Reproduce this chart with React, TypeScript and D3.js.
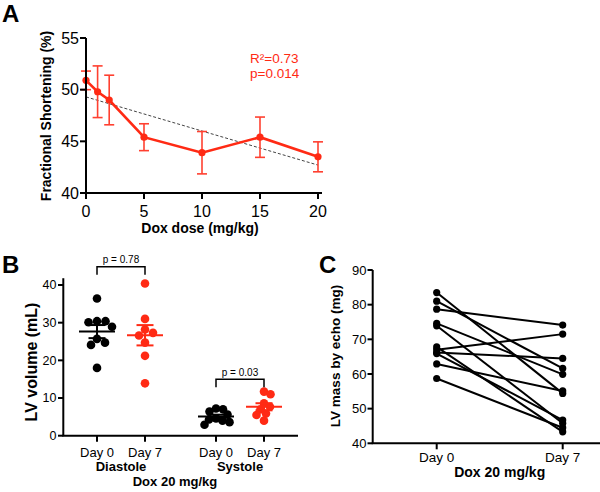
import React from 'react';
import * as d3 from 'd3';

// ---------- Panel A data ----------
const doses = [0, 1, 2, 5, 10, 15, 20];
const fsMean = [50.9, 49.8, 49.0, 45.4, 43.9, 45.4, 43.5];
const fsSem = [0.9, 2.5, 2.4, 1.3, 2.05, 1.95, 1.45];
const fitDoses = [0, 20];
const fitValues = [49.3, 42.7];
const aTicksY = [40, 45, 50, 55];
const aTicksX = [0, 5, 10, 15, 20];
const statText = ['R²=0.73', 'p=0.014'];

// ---------- Panel B data ----------
const phases = ['Diastole', 'Systole'];
const days = ['Day 0', 'Day 7'];
const diastoleDay0 = [36.4, 30.4, 28.9, 30.1, 30.4, 24.7, 24.1, 25.7, 18.0];
const diastoleDay7 = [40.4, 31.0, 27.3, 28.2, 26.6, 24.7, 21.2, 13.9];
const systoleDay0 = [7.2, 7.0, 6.4, 5.6, 4.6, 4.3, 4.0, 3.6, 2.9];
const systoleDay7 = [11.7, 11.0, 8.6, 7.7, 7.0, 5.9, 5.5, 4.0];
const bTicksY = [0, 10, 20, 30, 40];
const pValues = ['p = 0.78', 'p = 0.03'];

// ---------- Panel C data ----------
const massDay0 = [83.5, 81.0, 78.7, 74.6, 73.9, 67.8, 67.0, 66.2, 65.9, 62.9, 58.7];
const massDay7 = [54.4, 61.6, 74.1, 59.9, 45.8, 43.3, 71.5, 64.5, 46.7, 55.1, 44.5];
const cTicksY = [40, 50, 60, 70, 80, 90];

const FONT = "'Liberation Sans', Arial, Helvetica, sans-serif";
const RED = '#ff2a14';
const RED_ERR = '#ff4030';

function swarm(values: number[], y: (v: number) => number, r: number, overlap: number): number[] {
  const items = values.map((v, i) => ({ v, i, py: y(v) })).sort((a, b) => a.py - b.py);
  const placed: { x: number; y: number }[] = [];
  const out: number[] = new Array(values.length).fill(0);
  const minD = 2 * r * overlap;
  for (const p of items) {
    let best = 0;
    for (let k = 0; k < 400; k++) {
      const cands = k === 0 ? [0] : [k * 0.5, -k * 0.5];
      let found: number | null = null;
      for (const c of cands) {
        if (placed.every(q => (q.x - c) ** 2 + (q.y - p.py) ** 2 >= minD * minD)) {
          found = c;
          break;
        }
      }
      if (found !== null) { best = found; break; }
    }
    placed.push({ x: best, y: p.py });
    out[p.i] = best;
  }
  return out;
}

function PanelA() {
  const x = d3.scaleLinear().domain([0, 20]).range([86, 318]);
  const y = d3.scaleLinear().domain([40, 55]).range([193, 38]);
  const line = d3.line<number>().x((_, i) => x(doses[i])).y(d => y(d));
  const cap = 5;
  return (
    <g>
      <text x={2} y={22} fontSize={24} fontWeight="bold" fontFamily={FONT}>A</text>
      <line x1={x(fitDoses[0])} y1={y(fitValues[0])} x2={x(fitDoses[1])} y2={y(fitValues[1])}
        stroke="#444" strokeWidth={1} strokeDasharray="3,2" />
      {doses.map((d, i) => (
        <g key={i} stroke={RED_ERR} strokeWidth={1.6}>
          <line x1={x(d)} x2={x(d)} y1={y(fsMean[i] + fsSem[i])} y2={y(fsMean[i] - fsSem[i])} />
          <line x1={x(d) - cap} x2={x(d) + cap} y1={y(fsMean[i] + fsSem[i])} y2={y(fsMean[i] + fsSem[i])} />
          <line x1={x(d) - cap} x2={x(d) + cap} y1={y(fsMean[i] - fsSem[i])} y2={y(fsMean[i] - fsSem[i])} />
        </g>
      ))}
      <path d={line(fsMean) || ''} fill="none" stroke={RED} strokeWidth={2.6} />
      {doses.map((d, i) => (
        <circle key={i} cx={x(d)} cy={y(fsMean[i])} r={3.6} fill={RED} />
      ))}
      <line x1={86} x2={86} y1={y(55)} y2={y(40)} stroke="#000" strokeWidth={2} />
      <line x1={85} x2={322} y1={y(40)} y2={y(40)} stroke="#000" strokeWidth={2} />
      {aTicksY.map(t => (
        <g key={t}>
          <line x1={80} x2={86} y1={y(t)} y2={y(t)} stroke="#000" strokeWidth={2} />
          <text x={79} y={y(t)} dy="0.35em" textAnchor="end" fontSize={16} fontFamily={FONT}>{t}</text>
        </g>
      ))}
      {aTicksX.map(t => (
        <g key={t}>
          <line x1={x(t)} x2={x(t)} y1={193} y2={199} stroke="#000" strokeWidth={2} />
          <text x={x(t)} y={216.5} textAnchor="middle" fontSize={16} fontFamily={FONT}>{t}</text>
        </g>
      ))}
      <text x={200} y={233} textAnchor="middle" fontSize={14} fontWeight="bold" fontFamily={FONT}>Dox dose (mg/kg)</text>
      <text transform={`translate(51,116) rotate(-90)`} textAnchor="middle" fontSize={14} fontWeight="bold" fontFamily={FONT}>Fractional Shortening (%)</text>
      <text x={250} y={63} fontSize={13.5} fill={RED} fontFamily={FONT}>{statText[0]}</text>
      <text x={250} y={78} fontSize={13.5} fill={RED} fontFamily={FONT}>{statText[1]}</text>
    </g>
  );
}

function PanelB() {
  const y = d3.scaleLinear().domain([0, 40]).range([435.7, 285]);
  const xPhase = d3.scalePoint<string>().domain(phases).range([121, 240]);
  const xDay = d3.scalePoint<string>().domain(days).range([-24, 24]);
  const groups = [
    { phase: 'Diastole', day: 'Day 0', values: diastoleDay0, color: '#000' },
    { phase: 'Diastole', day: 'Day 7', values: diastoleDay7, color: RED },
    { phase: 'Systole', day: 'Day 0', values: systoleDay0, color: '#000' },
    { phase: 'Systole', day: 'Day 7', values: systoleDay7, color: RED },
  ];
  const r = 4.3;
  const y0 = y(0);
  return (
    <g>
      <text x={2} y={273.3} fontSize={24} fontWeight="bold" fontFamily={FONT}>B</text>
      {groups.map((g, gi) => {
        const cx = (xPhase(g.phase) as number) + (xDay(g.day) as number);
        const offs = swarm(g.values, y, r, g.phase === 'Systole' ? 0.8 : 0.98);
        const mean = d3.mean(g.values) as number;
        const sem = (d3.deviation(g.values) as number) / Math.sqrt(g.values.length);
        return (
          <g key={gi}>
            {g.values.map((v, i) => (
              <circle key={i} cx={cx + offs[i]} cy={y(v)} r={r} fill={g.color} />
            ))}
            <g stroke={g.color} strokeWidth={2}>
              <line x1={cx - 18} x2={cx + 18} y1={y(mean)} y2={y(mean)} />
              <line x1={cx} x2={cx} y1={y(mean + sem)} y2={y(mean - sem)} />
              <line x1={cx - 8.5} x2={cx + 8.5} y1={y(mean + sem)} y2={y(mean + sem)} />
              <line x1={cx - 8.5} x2={cx + 8.5} y1={y(mean - sem)} y2={y(mean - sem)} />
            </g>
          </g>
        );
      })}
      {phases.map((p, pi) => {
        const x0 = (xPhase(p) as number) + (xDay('Day 0') as number);
        const x1 = (xPhase(p) as number) + (xDay('Day 7') as number);
        const top = pi === 0 ? 266.7 : 379.3;
        return (
          <g key={p}>
            <path d={`M${x0},${top + 8} V${top} H${x1} V${top + 8}`} fill="none" stroke="#000" strokeWidth={1.5} />
            <text x={(x0 + x1) / 2} y={top - 3.5} textAnchor="middle" fontSize={10} fontFamily={FONT}>{pValues[pi]}</text>
          </g>
        );
      })}
      <line x1={63.3} x2={63.3} y1={y(41.8)} y2={y0} stroke="#000" strokeWidth={2} />
      <line x1={62.3} x2={298} y1={y0} y2={y0} stroke="#000" strokeWidth={2} />
      {bTicksY.map(t => (
        <g key={t}>
          <line x1={58} x2={63.3} y1={y(t)} y2={y(t)} stroke="#000" strokeWidth={2} />
          <text x={56.5} y={y(t)} dy="0.35em" textAnchor="end" fontSize={12.5} fontFamily={FONT}>{t}</text>
        </g>
      ))}
      {phases.map(p => (
        <g key={p}>
          {days.map(d => {
            const cx = (xPhase(p) as number) + (xDay(d) as number);
            return (
              <g key={d}>
                <line x1={cx} x2={cx} y1={y0} y2={y0 + 6} stroke="#000" strokeWidth={2} />
                <text x={cx} y={456.5} textAnchor="middle" fontSize={13} fontFamily={FONT}>{d}</text>
              </g>
            );
          })}
          <text x={xPhase(p) as number} y={471} textAnchor="middle" fontSize={13} fontWeight="bold" fontFamily={FONT}>{p}</text>
        </g>
      ))}
      <text x={175} y={486} textAnchor="middle" fontSize={13} fontWeight="bold" fontFamily={FONT}>Dox 20 mg/kg</text>
      <text transform={`translate(36.5,362) rotate(-90)`} textAnchor="middle" fontSize={16} fontWeight="bold" fontFamily={FONT}>LV volume (mL)</text>
    </g>
  );
}

function PanelC() {
  const y = d3.scaleLinear().domain([40, 90]).range([443.3, 270]);
  const x = d3.scalePoint<string>().domain(days).range([436.7, 562.7]);
  const x0 = x('Day 0') as number;
  const x1 = x('Day 7') as number;
  return (
    <g>
      <text x={319} y={273.3} fontSize={24} fontWeight="bold" fontFamily={FONT}>C</text>
      {massDay0.map((v, i) => (
        <line key={i} x1={x0} y1={y(v)} x2={x1} y2={y(massDay7[i])} stroke="#000" strokeWidth={2} />
      ))}
      {massDay0.map((v, i) => (
        <g key={i}>
          <circle cx={x0} cy={y(v)} r={3.6} fill="#000" />
          <circle cx={x1} cy={y(massDay7[i])} r={3.6} fill="#000" />
        </g>
      ))}
      <line x1={372.7} x2={372.7} y1={y(90)} y2={y(40)} stroke="#000" strokeWidth={2} />
      <line x1={371.7} x2={600} y1={y(40)} y2={y(40)} stroke="#000" strokeWidth={2} />
      {cTicksY.map(t => (
        <g key={t}>
          <line x1={367.5} x2={372.7} y1={y(t)} y2={y(t)} stroke="#000" strokeWidth={2} />
          <text x={366.5} y={y(t)} dy="0.35em" textAnchor="end" fontSize={13} fontFamily={FONT}>{t}</text>
        </g>
      ))}
      {days.map(d => (
        <g key={d}>
          <line x1={x(d) as number} x2={x(d) as number} y1={y(40)} y2={y(40) + 6} stroke="#000" strokeWidth={2} />
          <text x={x(d) as number} y={462} textAnchor="middle" fontSize={13.5} fontFamily={FONT}>{d}</text>
        </g>
      ))}
      <text x={(x0 + x1) / 2} y={476.5} textAnchor="middle" fontSize={14} fontWeight="bold" fontFamily={FONT}>Dox 20 mg/kg</text>
      <text transform={`translate(340,356) rotate(-90)`} textAnchor="middle" fontSize={13.5} fontWeight="bold" fontFamily={FONT}>LV mass by echo (mg)</text>
    </g>
  );
}

export default function App() {
  return (
    <svg width={600} height={492} viewBox="0 0 600 492"
      style={{ position: 'absolute', left: 0, top: 0, background: '#fff' }}>
      <rect width={600} height={492} fill="#fff" />
      <PanelA />
      <PanelB />
      <PanelC />
    </svg>
  );
}
